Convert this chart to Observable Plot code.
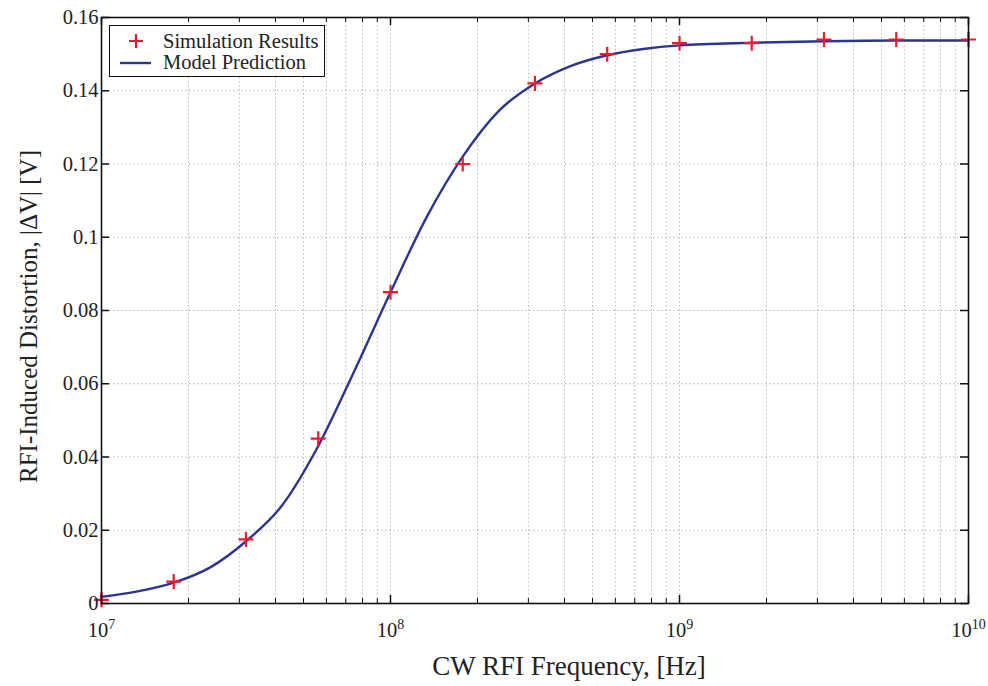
<!DOCTYPE html>
<html>
<head>
<meta charset="utf-8">
<script src="https://cdn.jsdelivr.net/npm/d3@7"></script>
<script src="https://cdn.jsdelivr.net/npm/@observablehq/plot@0.6"></script>
<style>
  body { margin: 0; background: #fff; }
  #wrap { position: relative; width: 988px; height: 686px; font-family: "Liberation Serif", "Times New Roman", serif; color: #222; }
  #legend { position: absolute; left: 109px; top: 25px; width: 214px; height: 50px; border: 1.3px solid #111; background: #fff; font-size: 20.5px; }
  #legend .lab { position: absolute; left: 53px; white-space: nowrap; line-height: 22px; }
</style>
</head>
<body>
<div id="wrap"></div>
<script>
// Simulated distortion at each CW interference frequency
const simFreq = [1e7, 1.778e7, 3.162e7, 5.623e7, 1e8, 1.778e8, 3.162e8, 5.623e8, 1e9, 1.778e9, 3.162e9, 5.623e9, 1e10];
const simVal  = [0.001, 0.006, 0.0175, 0.045, 0.085, 0.120, 0.142, 0.150, 0.153, 0.153, 0.154, 0.154, 0.154];

// Model prediction curve
const modelFreq = [1e7, 1.334e7, 1.778e7, 2.371e7, 3.162e7, 4.217e7, 5.623e7, 7.499e7, 1e8, 1.334e8, 1.778e8,
                   2.371e8, 3.162e8, 4.217e8, 5.623e8, 7.499e8, 1e9, 1.778e9, 3.162e9, 5.623e9, 1e10];
const modelVal  = [0.0018, 0.0033, 0.0057, 0.0098, 0.0170, 0.0268, 0.0430, 0.0635, 0.0850, 0.1055, 0.1220,
                   0.1345, 0.1420, 0.1468, 0.1497, 0.1514, 0.1524, 0.1531, 0.1535, 0.1537, 0.1537];

// Axis ticks and labels
const xMajor = [1e7, 1e8, 1e9, 1e10];
const xExponents = ["7", "8", "9", "10"];
const yTicks = [0, 0.02, 0.04, 0.06, 0.08, 0.1, 0.12, 0.14, 0.16];
const yTickLabels = ["0", "0.02", "0.04", "0.06", "0.08", "0.1", "0.12", "0.14", "0.16"];
const xTitle = "CW RFI Frequency, [Hz]";
const yTitle = "RFI-Induced Distortion, |\u0394V| [V]";
const seriesNames = ["Simulation Results", "Model Prediction"];

const red = "#ec1c2a";
const blue = "#2b3592";

const sim = simFreq.map((f, i) => ({f, v: simVal[i]}));
const model = modelFreq.map((f, i) => ({f, v: modelVal[i]}));

// every 1..9 multiple inside each decade, for grid lines and minor ticks
const xAll = d3.scaleLog().domain([1e7, 1e10]).ticks();
const xMinor = xAll.filter(d => !xMajor.includes(d));

const W = 988, H = 686, mL = 101, mR = 20, mT = 17, mB = 83;
const pw = W - mL - mR, ph = H - mT - mB;

// a thin "+" cross
const cross = {
  draw(ctx, size) {
    const r = Math.sqrt(size / Math.PI);
    ctx.moveTo(-r, 0); ctx.lineTo(r, 0);
    ctx.moveTo(0, -r); ctx.lineTo(0, r);
  }
};

const grid = {stroke: "#b8b8b8", strokeWidth: 1, strokeDasharray: "1.5,2.5"};

const chart = Plot.plot({
  width: W, height: H,
  marginLeft: mL, marginRight: mR, marginTop: mT, marginBottom: mB,
  style: {fontFamily: "'Liberation Serif', 'Times New Roman', serif", fontSize: "20.5px", color: "#222", background: "#fff", overflow: "visible"},
  x: {type: "log", domain: [1e7, 1e10], label: null},
  y: {domain: [0, 0.16], label: null},
  marks: [
    Plot.ruleX(xAll, {...grid}),
    Plot.ruleY(yTicks, {...grid}),
    Plot.line(model, {x: "f", y: "v", stroke: blue, strokeWidth: 2.4, curve: "monotone-x"}),
    Plot.dot(sim, {x: "f", y: "v", symbol: cross, r: 7.5, fill: "none", stroke: red, strokeWidth: 2.2}),
    Plot.frame({stroke: "#111", strokeWidth: 1.6}),
    // inward ticks on all four sides
    Plot.tickX(xMajor, {stroke: "#111", strokeWidth: 1.5, insetTop: ph - 8}),
    Plot.tickX(xMajor, {stroke: "#111", strokeWidth: 1.5, insetBottom: ph - 8}),
    Plot.tickX(xMinor, {stroke: "#111", strokeWidth: 1, insetTop: ph - 5}),
    Plot.tickX(xMinor, {stroke: "#111", strokeWidth: 1, insetBottom: ph - 5}),
    Plot.tickY(yTicks, {stroke: "#111", strokeWidth: 1.5, insetRight: pw - 8}),
    Plot.tickY(yTicks, {stroke: "#111", strokeWidth: 1.5, insetLeft: pw - 8}),
    Plot.axisX({ticks: xMajor, tickSize: 0, tickPadding: 19, tickFormat: () => "10"}),
    Plot.axisY({ticks: yTicks, tickSize: 0, tickPadding: 3, tickFormat: (d, i) => yTickLabels[i]}),
    Plot.text([xTitle], {frameAnchor: "bottom", dx: 34, dy: 63, fontSize: 27, lineAnchor: "middle", textAnchor: "middle"}),
    Plot.text([yTitle], {frameAnchor: "left", dx: -73, dy: 6, rotate: -90, fontSize: 25, lineAnchor: "middle", textAnchor: "middle"})
  ]
});

// raise the decade exponents on the x tick labels
d3.select(chart).selectAll('g[aria-label="x-axis tick label"] text').each(function(d, i) {
  const t = d3.select(this);
  t.text(null);
  t.append("tspan").text("10");
  t.append("tspan").attr("dy", "-0.55em").attr("font-size", "14px").text(xExponents[i]);
});

const wrap = document.getElementById("wrap");
wrap.appendChild(chart);

// legend box in the upper-left corner of the plot area
const legend = document.createElement("div");
legend.id = "legend";
legend.innerHTML = `
  <svg width="60" height="50" style="position:absolute;left:0;top:0">
    <path d="M19,15 H33 M26,8 V22" stroke="${red}" stroke-width="2.2" fill="none"/>
    <line x1="10" x2="41" y1="37" y2="37" stroke="${blue}" stroke-width="2.4"/>
  </svg>
  <div class="lab" style="top:4px">${seriesNames[0]}</div>
  <div class="lab" style="top:25px">${seriesNames[1]}</div>`;
wrap.appendChild(legend);
</script>
</body>
</html>
